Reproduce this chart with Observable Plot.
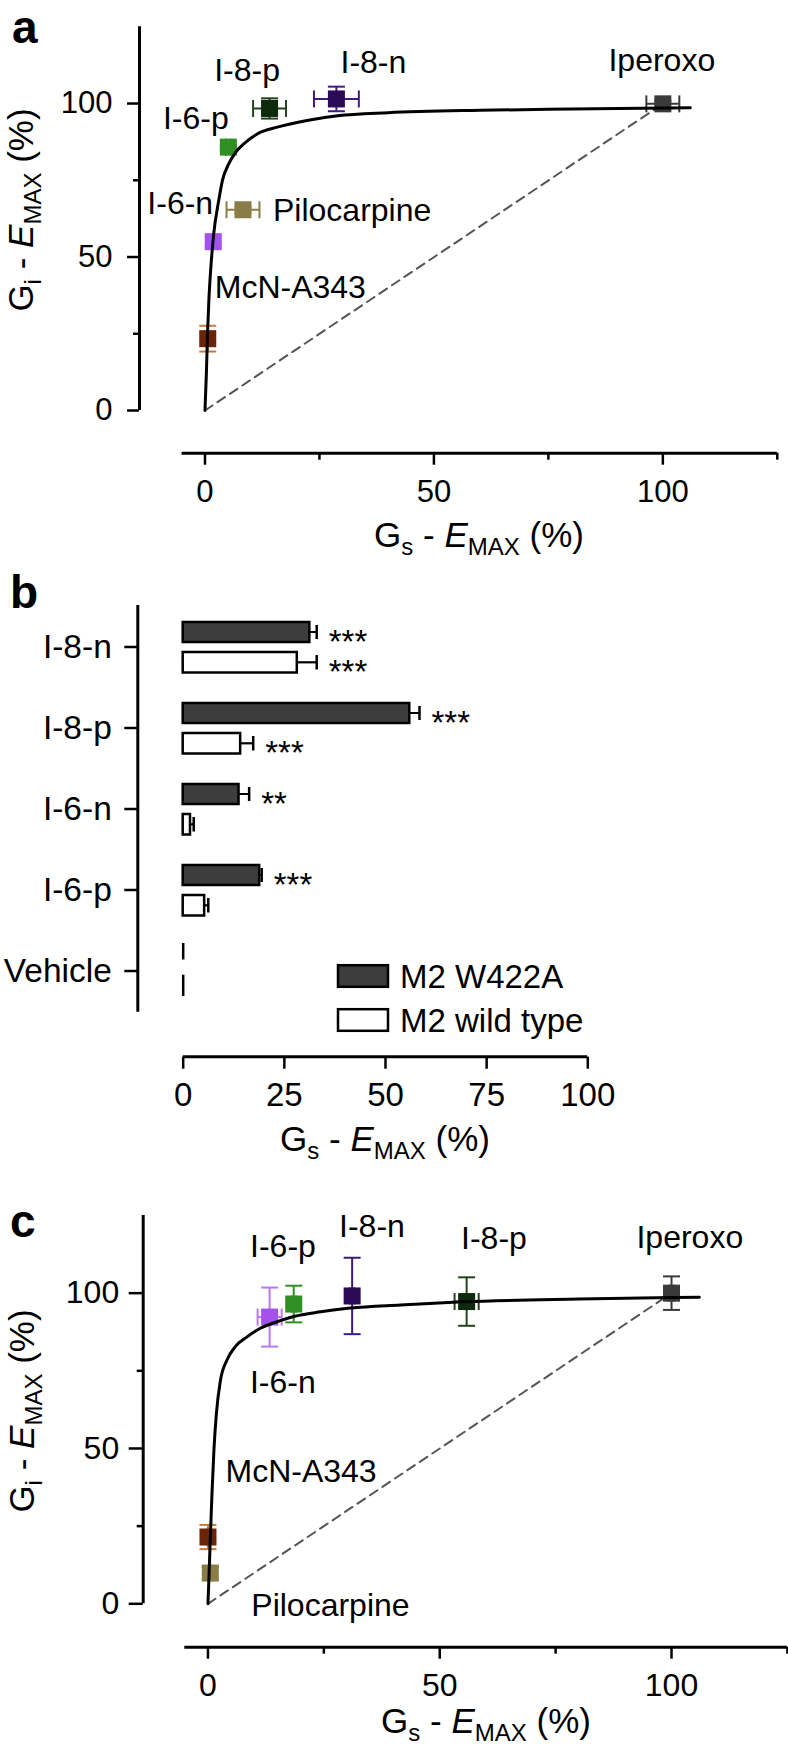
<!DOCTYPE html>
<html>
<head>
<meta charset="utf-8">
<script src="https://cdn.jsdelivr.net/npm/d3@7"></script>
<script src="https://cdn.jsdelivr.net/npm/@observablehq/plot@0.6"></script>
<style>
html, body { margin: 0; padding: 0; background: #fff; }
#root { position: relative; width: 788px; height: 1756px; overflow: hidden;
        font-family: "Liberation Sans", Arial, Helvetica, sans-serif; }
#root > svg { position: absolute; left: 0; }
</style>
</head>
<body>
<div id="root"></div>
<script>
// ---------------- Panel a data (Gs vs Gi Emax, M2 wild type) ----------------
const compoundsA = ["I-8-p", "I-8-n", "I-6-p", "Pilocarpine", "I-6-n", "McN-A343", "Iperoxo"];
const gsA    = [14.1, 28.7, 5.1, 8.3, 1.8, 0.6, 100];
const giA    = [98.4, 101.5, 85.8, 65.4, 55.0, 23.4, 99.9];
const gsErrA = [3.6, 4.9, 0.5, 3.6, 1.0, 0.5, 3.6];
const giErrA = [3.3, 4.0, 0.5, 1.0, 1.5, 4.2, 1.0];
// fitted curve
const fitGsA = [0, 0.3, 0.55, 0.85, 1.3, 1.9, 3.0, 3.8, 5.2, 6.7, 8.5, 11.4, 15.8, 22.3, 29, 40, 60, 80, 106];
const fitGiA = [0, 12, 25, 36, 47, 57.5, 68.4, 74.9, 80.4, 84.1, 86.9, 90.1, 92.3, 94.5, 96, 97, 97.8, 98.2, 98.6];

// ---------------- Panel b data (Gs Emax bars) ----------------
const categoriesB = ["I-8-n", "I-8-p", "I-6-n", "I-6-p", "Vehicle"];
const seriesB = ["M2 W422A", "M2 wild type"];
const w422a       = [31.3, 56.0, 13.8, 18.9, 0];
const w422aErr    = [1.7, 2.4, 2.5, 0.5, 0];
const wildType    = [28.2, 14.2, 1.8, 5.3, 0];
const wildTypeErr = [4.8, 3.1, 0.8, 0.9, 0];
const sigW422a    = ["***", "***", "**", "***", ""];
const sigWildType = ["***", "***", "", "", ""];

// ---------------- Panel c data (M2 W422A) ----------------
const compoundsC = ["I-6-n", "I-6-p", "I-8-n", "I-8-p", "Iperoxo", "McN-A343", "Pilocarpine"];
const gsC    = [13.3, 18.5, 31.1, 55.8, 100, 0, 0.5];
const giC    = [92.3, 96.5, 99.1, 97.3, 100, 21.5, 9.9];
const gsErrC = [2.6, 0.5, 0.5, 2.6, 0.5, 0.3, 0.3];
const giErrC = [9.5, 5.9, 12.3, 7.8, 5.4, 3.9, 2.0];
const fitGsC = [0, 0.25, 0.5, 0.85, 1.3, 1.8, 2.7, 4.1, 5.9, 8.5, 11.3, 14.9, 18.5, 24.3, 30.7, 41.5, 55, 80, 106];
const fitGiC = [0, 10, 21, 35, 50, 61, 72, 78.5, 82.8, 86, 88.7, 90.8, 92.5, 94, 95.2, 96.2, 97.2, 98.1, 98.7];

// ---------------- ticks / domains ----------------
const xDomain = [-5, 125];
const yDomain = [0, 125];
const majorTicks = [0, 50, 100];
const minorTicksY = [25, 75];
const minorTicksX = [25, 75, 125];
const ticksB = [0, 25, 50, 75, 100];
const xDomainB = [0, 100];

// ---------------- styles ----------------
const FONT = "'Liberation Sans', Arial, Helvetica, sans-serif";
const markerColor = {
  "Iperoxo": "#3a3a3a", "I-8-p": "#0e2a0c", "I-8-n": "#2b0b57", "I-6-p": "#2f8f23",
  "I-6-n": "#a452ec", "Pilocarpine": "#8a7c46", "McN-A343": "#6a2508"
};
const errColor = {
  "Iperoxo": "#3a3a3a", "I-8-p": "#24421c", "I-8-n": "#3e1a7c", "I-6-p": "#2f8f23",
  "I-6-n": "#b878f0", "Pilocarpine": "#8a7c46", "McN-A343": "#c47a43"
};
const capH = {draw(ctx, size) { const r = Math.sqrt(size / Math.PI); ctx.moveTo(-r, 0); ctx.lineTo(r, 0); }};
const capV = {draw(ctx, size) { const r = Math.sqrt(size / Math.PI); ctx.moveTo(0, -r); ctx.lineTo(0, r); }};

const rowsA = compoundsA.map((n, i) => ({name: n, gs: gsA[i], gi: giA[i], gsErr: gsErrA[i], giErr: giErrA[i]}));
const rowsC = compoundsC.map((n, i) => ({name: n, gs: gsC[i], gi: giC[i], gsErr: gsErrC[i], giErr: giErrC[i]}));
const fitA = fitGsA.map((g, i) => ({gs: g, gi: fitGiA[i]}));
const fitC = fitGsC.map((g, i) => ({gs: g, gi: fitGiC[i]}));

// label offsets (px) relative to each point
const labelsA = {
  "I-8-p": {dx: -22.5, dy: -38, anchor: "middle"},
  "I-8-n": {dx: 37, dy: -36, anchor: "middle"},
  "Iperoxo": {dx: -1, dy: -43, anchor: "middle"},
  "I-6-p": {dx: -32.5, dy: -28.6, anchor: "middle"},
  "I-6-n": {dx: -33, dy: -38, anchor: "middle"},
  "Pilocarpine": {dx: 30, dy: 1, anchor: "start"},
  "McN-A343": {dx: 7, dy: -51, anchor: "start"}
};
const labelsC = {
  "I-6-p": {dx: -10.8, dy: -57, anchor: "middle"},
  "I-8-n": {dx: 19.8, dy: -69, anchor: "middle"},
  "I-8-p": {dx: 27.3, dy: -63, anchor: "middle"},
  "Iperoxo": {dx: 18.3, dy: -55, anchor: "middle"},
  "I-6-n": {dx: 13.2, dy: 66, anchor: "middle"},
  "McN-A343": {dx: 17.5, dy: -65, anchor: "start"},
  "Pilocarpine": {dx: 41, dy: 32.4, anchor: "start"}
};

function scatter(rows, fit, labels, cfg) {
  const origin = {gs: 0, gi: 0};
  const full = rows.find(d => d.name === "Iperoxo");
  const col = d => errColor[d.name];
  return Plot.plot({
    width: 788, height: cfg.height,
    marginLeft: cfg.ml, marginTop: cfg.mt, marginRight: cfg.mr, marginBottom: cfg.mb,
    x: {domain: xDomain, insetLeft: cfg.insetL, axis: null},
    y: {domain: yDomain, insetBottom: cfg.insetB, axis: null},
    color: {type: "identity"},
    style: {fontFamily: FONT, background: "transparent", overflow: "visible"},
    marks: [
      Plot.ruleX([xDomain[0]], {y1: yDomain[0], y2: yDomain[1], dx: -cfg.insetL, strokeWidth: 3}),
      Plot.ruleY([yDomain[0]], {x1: xDomain[0], x2: xDomain[1], dy: cfg.insetB, strokeWidth: 3}),
      Plot.axisY({ticks: majorTicks, tickSize: cfg.tsY, tickPadding: cfg.tpY, fontSize: cfg.fs, strokeWidth: 2.5, label: null}),
      Plot.axisY({ticks: minorTicksY, tickSize: 6, tickFormat: () => "", strokeWidth: 2.5, label: null}),
      Plot.axisX({ticks: majorTicks, tickSize: 12, tickPadding: cfg.tpX, fontSize: cfg.fs, strokeWidth: 2.5, label: null}),
      Plot.axisX({ticks: minorTicksX, tickSize: 7, tickFormat: () => "", strokeWidth: 2.5, label: null}),
      Plot.line([origin, full], {x: "gs", y: "gi", stroke: "#555", strokeWidth: 2, strokeDasharray: "9,6"}),
      Plot.ruleX(rows, {x: "gs", y1: d => d.gi - d.giErr, y2: d => d.gi + d.giErr, stroke: col, strokeWidth: 2}),
      Plot.ruleY(rows, {y: "gi", x1: d => d.gs - d.gsErr, x2: d => d.gs + d.gsErr, stroke: col, strokeWidth: 2}),
      Plot.dot(rows, {x: "gs", y: d => d.gi + d.giErr, symbol: capH, r: 8.5, stroke: col, fill: "none", strokeWidth: 2}),
      Plot.dot(rows, {x: "gs", y: d => d.gi - d.giErr, symbol: capH, r: 8.5, stroke: col, fill: "none", strokeWidth: 2}),
      Plot.dot(rows, {x: d => d.gs + d.gsErr, y: "gi", symbol: capV, r: 8.5, stroke: col, fill: "none", strokeWidth: 2}),
      Plot.dot(rows, {x: d => d.gs - d.gsErr, y: "gi", symbol: capV, r: 8.5, stroke: col, fill: "none", strokeWidth: 2}),
      Plot.dot(rows, {x: "gs", y: "gi", symbol: "square", r: 9.6, fill: d => markerColor[d.name]}),
      Plot.line(fit, {x: "gs", y: "gi", curve: "monotone-x", stroke: "black", strokeWidth: 3}),
      ...rows.map(d => {
        const o = labels[d.name];
        return Plot.text([d], {x: "gs", y: "gi", text: "name", dx: o.dx, dy: o.dy, textAnchor: o.anchor,
                               fontSize: cfg.lfs, fill: "black"});
      })
    ]
  });
}

const plotA = scatter(rowsA, fitA, labelsA, {
  height: 575, ml: 139, mt: 26.3, mr: 11.2, mb: 122.3, insetL: 42.6, insetB: 42.7,
  tsY: 12, tpY: 15, tpX: 15, fs: 31, lfs: 32
});
plotA.style.top = "0px";

const plotC = scatter(rowsC, fitC, labelsC, {
  height: 581, ml: 142.7, mt: 40, mr: 1.1, mb: 109.3, insetL: 41.6, insetB: 43.4,
  tsY: 14, tpY: 10, tpX: 14, fs: 32, lfs: 32
});
plotC.style.top = "1175px";

// ---------------- Panel b ----------------
const rowsW = categoriesB.map((c, i) => ({cat: c, series: seriesB[0], value: w422a[i], err: w422aErr[i], sig: sigW422a[i]}));
const rowsT = categoriesB.map((c, i) => ({cat: c, series: seriesB[1], value: wildType[i], err: wildTypeErr[i], sig: sigWildType[i]}));
const hB = 600, mtB = 30, mbB = 118.3, insetBB = 45, insetLB = 45.4;
const stepB = (hB - mtB - mbB - insetBB) / categoriesB.length;
const plotB = Plot.plot({
  width: 788, height: hB,
  marginLeft: 137.3, marginTop: mtB, marginRight: 200.7, marginBottom: mbB,
  x: {domain: xDomainB, insetLeft: insetLB, axis: null},
  y: {domain: categoriesB, type: "band", padding: 0, insetBottom: insetBB, axis: null},
  style: {fontFamily: FONT, background: "transparent", overflow: "visible"},
  marks: [
    Plot.ruleX([xDomainB[0]], {dx: -insetLB, insetBottom: insetBB, strokeWidth: 3}),
    Plot.ruleY([categoriesB[categoriesB.length - 1]], {x1: xDomainB[0], x2: xDomainB[1], dy: stepB / 2 + insetBB, strokeWidth: 3}),
    Plot.axisY({tickSize: 13, tickPadding: 13, fontSize: 33.5, strokeWidth: 2.5, label: null}),
    Plot.axisX({ticks: ticksB, tickSize: 12, tickPadding: 13, fontSize: 33, strokeWidth: 2.5, label: null}),
    // error bar lines (thin bars) and caps
    Plot.barX(rowsW.filter(d => d.err > 0), {x1: "value", x2: d => d.value + d.err, y: "cat", insetTop: 25, insetBottom: 54, fill: "black"}),
    Plot.barX(rowsT.filter(d => d.err > 0), {x1: "value", x2: d => d.value + d.err, y: "cat", insetTop: 55.2, insetBottom: 23.6, fill: "black"}),
    Plot.tickX(rowsW.filter(d => d.err > 0), {x: d => d.value + d.err, y: "cat", insetTop: 19, insetBottom: 48, strokeWidth: 2.5}),
    Plot.tickX(rowsT.filter(d => d.err > 0), {x: d => d.value + d.err, y: "cat", insetTop: 49, insetBottom: 17.5, strokeWidth: 2.5}),
    // bars
    Plot.barX(rowsW.filter(d => d.value > 0), {x: "value", y: "cat", fill: "#3d3d3d", stroke: "black", strokeWidth: 2.5, insetTop: 16, insetBottom: 45}),
    Plot.barX(rowsT.filter(d => d.value > 0), {x: "value", y: "cat", fill: "white", stroke: "black", strokeWidth: 2.5, insetTop: 46, insetBottom: 14.5}),
    // zero-height bars (vehicle)
    Plot.tickX(rowsW.filter(d => d.value === 0), {x: "value", y: "cat", insetTop: 13, insetBottom: 51.5, strokeWidth: 2.5}),
    Plot.tickX(rowsT.filter(d => d.value === 0), {x: "value", y: "cat", insetTop: 44.7, insetBottom: 15, strokeWidth: 2.5}),
    // significance
    Plot.text(rowsW.filter(d => d.sig), {x: d => d.value + d.err, y: "cat", text: "sig", dx: 12, dy: -4.4, textAnchor: "start", fontSize: 33}),
    Plot.text(rowsT.filter(d => d.sig), {x: d => d.value + d.err, y: "cat", text: "sig", dx: 12, dy: 25.8, textAnchor: "start", fontSize: 33})
  ]
});
plotB.style.top = "575px";

const root = document.getElementById("root");
root.appendChild(plotA);
root.appendChild(plotB);
root.appendChild(plotC);

// ---------------- overlay: panel letters, axis titles, legend ----------------
const ov = d3.select(root).append("svg")
  .attr("width", 788).attr("height", 1756)
  .style("position", "absolute").style("left", 0).style("top", 0)
  .style("font-family", FONT).style("pointer-events", "none").style("white-space", "pre");

[["a", 12, 43], ["b", 10, 608], ["c", 10, 1237]].forEach(([t, x, y]) => {
  ov.append("text").attr("x", x).attr("y", y).attr("font-size", 46).attr("font-weight", "bold").text(t);
});

function axisTitle(x, y, sub, rotate) {
  const t = ov.append("text").attr("text-anchor", "middle").attr("font-size", 35)
    .attr("transform", `translate(${x},${y})` + (rotate ? " rotate(-90)" : ""));
  t.append("tspan").text("G");
  t.append("tspan").attr("font-size", 24).attr("dy", 8).text(sub);
  t.append("tspan").attr("dy", -8).text(" - ");
  t.append("tspan").attr("font-style", "italic").text("E");
  t.append("tspan").attr("font-size", 24).attr("dy", 8).text("MAX");
  t.append("tspan").attr("dy", -8).text(" (%)");
}
axisTitle(33, 210, "i", true);
axisTitle(479, 547, "s", false);
axisTitle(385, 1151, "s", false);
axisTitle(33.5, 1411, "i", true);
axisTitle(486, 1733, "s", false);

// legend for panel b
const legendFills = ["#3d3d3d", "white"];
seriesB.forEach((s, i) => {
  const cy = [976, 1020][i];
  ov.append("rect").attr("x", 338).attr("y", cy - 10.8).attr("width", 50).attr("height", 21.6)
    .attr("fill", legendFills[i]).attr("stroke", "black").attr("stroke-width", 2.5);
  ov.append("text").attr("x", 400).attr("y", cy + 11.5).attr("font-size", 33).text(s);
});
</script>
</body>
</html>
